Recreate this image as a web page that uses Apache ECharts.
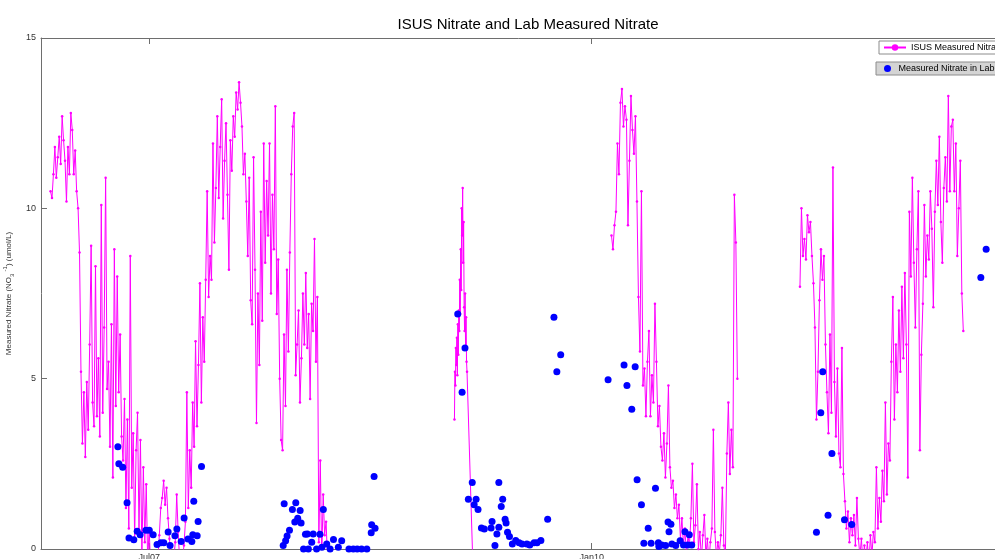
<!DOCTYPE html>
<html>
<head>
<meta charset="utf-8">
<title>ISUS Nitrate and Lab Measured Nitrate</title>
<script src="https://cdn.jsdelivr.net/npm/echarts@6/dist/echarts.min.js"></script>
<style>
html,body{margin:0;padding:0;background:#fff;}
#chart{width:995px;height:559px;}
</style>
</head>
<body>
<div id="chart"></div>
<script>
// x = days since 2007-07-01

// ISUS deployments: start day, sample step (days), values (umol/L)
var isusStartDay = [-204.3, 631.2, 956.0, 1345.9];
var isusStepDays = [3.0, 1.0, 3.1, 3.1];

var isusDep1 = [
  10.5, 10.3, 11.0, 11.8, 10.9, 11.5, 12.1, 11.3, 12.7, 12.0,
  11.4, 10.2, 11.8, 11.0, 12.8, 12.3, 11.0, 11.7, 10.5, 10.0,
  8.7, 5.2, 3.1, 4.6, 2.7, 4.9, 3.5, 6.0, 8.9, 4.3,
  3.6, 8.3, 3.9, 5.6, 3.3, 10.1, 4.0, 6.5, 10.9, 4.7,
  5.5, 3.0, 6.6, 2.1, 8.8, 4.2, 8.0, 4.6, 6.3, 3.3,
  2.6, 4.4, 1.2, 3.8, 0.6, 8.6, 1.8, 3.4, 0.3, 2.9,
  4.0, 0.5, 3.2, -0.3, 2.4, 0.2, 1.9, -0.4, 0.6, -0.5,
  -0.6, -0.5, -0.4, -0.6, -0.3, 0.4, 1.2, 1.5, 2.0, 1.3,
  1.8, 0.9, 0.3, -0.2, -0.4, -0.3, 0.2, 1.6, 0.5, -0.3,
  -0.4, -0.3, 0.1, 0.8, 4.6, 1.2, 2.9, 1.8, 4.3, 3.0,
  6.1, 3.6, 5.4, 7.8, 4.3, 6.8, 5.5, 7.9, 10.5, 7.4,
  8.6, 7.9, 11.9, 9.0, 10.6, 12.7, 10.3, 11.8, 13.2, 9.7,
  11.4, 12.5, 10.4, 8.2, 12.0, 11.1, 12.7, 12.1, 13.4, 12.9,
  13.7, 13.1, 12.4, 11.0, 11.6, 10.2, 8.6, 10.9, 7.3, 6.6,
  11.5, 8.2, 3.7, 7.5, 5.4, 9.9, 6.7, 11.9, 8.4, 10.8,
  9.2, 11.9, 7.5, 10.4, 8.8, 13.0, 6.9, 8.5, 5.0, 3.2,
  2.9, 6.3, 4.2, 8.2, 5.8, 8.7, 11.0, 12.4, 12.8, 5.1,
  6.0, 7.0, 4.3, 5.6, 7.5, 6.0, 8.1, 5.9, 6.9, 4.4,
  7.2, 6.4, 9.1, 5.5, 7.4, 0.2, 2.6, -0.3, 1.6, 0.4,
  0.8, -0.3
];
var isusDep2 = [
  3.8, 5.2, 4.8, 5.9, 5.4, 6.2, 5.1, 6.6, 5.7, 7.0,
  6.4, 7.9, 6.9, 8.8, 7.6, 10.0, 9.2, 10.6, 8.4, 9.6,
  7.1, 6.4, 7.5, 5.9, 6.8, 5.5, 5.2,
  null, null, null, null, null, null, null, null, null, null, null,
  -0.4
];
var isusDep3 = [
  9.2, 8.8, 9.5, 9.9, 11.9, 11.0, 13.1, 13.5, 12.4, 13.0,
  12.6, 9.5, 11.4, 13.3, 12.3, 11.6, 12.7, 10.2, 7.4, 5.8,
  10.5, 4.8, 5.3, 3.9, 5.5, 6.4, 3.9, 5.1, 4.3, 7.2,
  5.5, 3.6, 4.2, 3.0, 2.6, 3.4, 2.1, 3.1, 4.8, 2.4,
  1.8, 2.0, 1.2, 1.6, 0.9, 1.3, 0.3, 0.9, 0.1, 0.6,
  -0.2, 0.4, 0.1, 0.9, 2.5, 0.2, 0.7, 1.9, 0.0, 0.5,
  -0.3, 0.4, 1.0, -0.2, 0.3, -0.4, 0.2, 0.6, 3.5, 0.5,
  -0.2, 0.2, -0.1, 0.4, 1.8, 0.1, -0.2, 2.8, 4.3, 2.2,
  3.5, 2.4, 10.4, 9.0, 5.0
];
var isusDep4 = [
  7.7, 10.0, 8.6, 9.1, 8.5, 9.8, 9.3, 9.6, 8.6, 7.8,
  6.5, 3.8, 5.2, 7.3, 8.8, 7.9, 8.6, 6.0, 4.6, 3.4,
  6.3, 4.0, 11.2, 4.9, 3.3, 5.3, 2.8, 2.4, 5.9, 2.2,
  1.4, 0.6, 1.1, 0.2, 0.9, 0.4, 1.0, 0.1, 1.5, 0.3,
  -0.2, 0.3, -0.4, 0.1, -0.3, 0.2, -0.5, 0.4, -0.2, 0.5,
  0.2, 2.4, 0.6, 1.5, 0.8, 2.3, 1.4, 4.3, 1.6, 3.1,
  2.6, 5.5, 7.4, 3.8, 6.0, 4.6, 7.0, 5.2, 7.7, 5.6,
  8.1, 6.0, 2.1, 9.9, 8.0, 10.9, 8.4, 6.5, 8.8, 10.5,
  2.9, 5.7, 7.2, 10.1, 8.0, 9.2, 8.5, 10.5, 9.4, 7.1,
  9.9, 11.4, 10.1, 12.1, 9.6, 8.4, 10.6, 11.5, 10.2, 13.3,
  10.5, 12.4, 12.6, 10.5, 11.9, 8.6, 10.0, 11.4, 7.5, 6.4
];

// lab samples
var labDay = [
  -65, -63, -55, -46, -42, -32, -25, -19, -7, 0, 8, 16, 24, 30, 39, 43, 53, 57, 66, 72, 80, 88, 90, 92, 99, 101, 108,
  277, 282, 285, 290, 279, 296, 303, 312, 307, 301, 314, 319, 329, 323, 327, 339, 336, 353, 360, 346, 357, 367, 374, 381, 391, 398,
  413, 422, 430, 439, 450, 459, 460, 467, 465,
  638, 653, 647, 668, 723, 660, 676, 672, 680, 731, 728, 687, 693, 709, 707, 723, 719, 715, 736, 738, 741, 745, 751, 758, 765, 771, 781, 787, 796, 802, 810, 824, 837, 851, 843,
  949, 982, 1005, 988, 998, 1009, 1047, 1018, 1032, 1073, 1079, 1075, 1108, 1117, 1023, 1038, 1053, 1060, 1068, 1054, 1081, 1089, 1098, 1105, 1114, 1122,
  1380, 1404, 1438, 1453, 1393, 1389, 1412, 1731, 1720
];
var labNO3 = [
  3.0, 2.5, 2.4, 1.36, 0.32, 0.27, 0.52, 0.42, 0.55, 0.55, 0.42, 0.13, 0.18, 0.18, 0.5, 0.1, 0.39, 0.59, 0.22, 0.91, 0.29, 0.22, 0.42, 1.4, 0.39, 0.81, 2.42,
  0.1, 0.24, 0.38, 0.55, 1.33, 1.16, 1.36, 1.13, 0.9, 0.79, 0.76, 0.0, 0.0, 0.43, 0.44, 0.44, 0.2, 0.43, 1.16, 0.0, 0.05, 0.15, 0.0, 0.28, 0.05, 0.24,
  0.0, 0.0, 0.0, 0.0, 0.0, 0.48, 0.71, 0.61, 2.13,
  6.9, 5.9, 4.6, 1.95, 1.95, 1.46, 1.46, 1.3, 1.16, 1.46, 1.25, 0.62, 0.59, 0.81, 0.62, 0.64, 0.44, 0.1, 0.87, 0.76, 0.49, 0.37, 0.15, 0.25, 0.18, 0.15, 0.15, 0.12, 0.18, 0.18, 0.25, 0.87, 6.8, 5.7, 5.2,
  4.97, 5.4, 5.35, 4.8, 4.1, 2.03, 1.78, 1.3, 0.61, 0.79, 0.73, 0.51, 0.51, 0.42, 0.17, 0.17, 0.18, 0.12, 0.1, 0.07, 0.15, 0.1, 0.24, 0.12, 0.12, 0.12,
  0.49, 0.99, 0.86, 0.72, 5.2, 4.0, 2.8, 8.8, 7.97
];

var tickDays = [0, 915];
var tickText = ['Jul07', 'Jan10'];

var FONT = 'Liberation Sans, Arial, sans-serif';
var SERIES_NAME = 'ISUS Measured Nitrate';
var LAB_NAME = 'Measured Nitrate in Lab';

var lineSeries = [isusDep1, isusDep2, isusDep3, isusDep4].map(function (vals, k) {
  var pts = [];
  for (var i = 0; i < vals.length; i++) {
    if (vals[i] === null) continue;
    pts.push([isusStartDay[k] + i * isusStepDays[k], vals[i]]);
  }
  return {
    name: SERIES_NAME,
    type: 'line',
    data: pts,
    symbol: 'circle',
    symbolSize: 2.5,
    showSymbol: true,
    clip: true,
    lineStyle: {color: '#ff00ff', width: 1},
    itemStyle: {color: '#ff00ff'},
    z: 2
  };
});

var labPts = [];
for (var j = 0; j < labDay.length; j++) labPts.push([labDay[j], labNO3[j]]);

var myChart = echarts.init(document.getElementById('chart'));
var option = {
  animation: false,
  backgroundColor: '#ffffff',
  title: {
    text: 'ISUS Nitrate and Lab Measured Nitrate',
    left: 523,
    textAlign: 'center',
    top: 12,
    textStyle: {fontFamily: FONT, fontSize: 15, fontWeight: 'normal', color: '#000'}
  },
  legend: [
    {
      data: [SERIES_NAME],
      left: 879, top: 41,
      orient: 'horizontal',
      backgroundColor: '#ffffff',
      borderColor: '#8c8c8c', borderWidth: 1, borderRadius: 0,
      padding: [2, 40, 2, 4],
      itemWidth: 22, itemHeight: 8,
      textStyle: {fontFamily: FONT, fontSize: 9, color: '#000'}
    },
    {
      data: [LAB_NAME],
      left: 876, top: 62,
      backgroundColor: '#d4d4d4',
      borderColor: '#8c8c8c', borderWidth: 1, borderRadius: 0,
      padding: [2, 40, 2, 8],
      itemWidth: 12, itemHeight: 7,
      textStyle: {fontFamily: FONT, fontSize: 9, color: '#000'}
    }
  ],
  grid: {left: 41, top: 38, width: 964, height: 511, containLabel: false, outerBoundsMode: 'none'},
  xAxis: [
    {
      type: 'value', min: -224, max: 1770,
      position: 'bottom',
      axisLine: {onZero: false, lineStyle: {color: '#6e6e6e'}},
      axisTick: {inside: true, length: 6, customValues: tickDays, lineStyle: {color: '#6e6e6e'}},
      axisLabel: {
        customValues: tickDays, margin: 4,
        fontFamily: FONT, fontSize: 9, color: '#333',
        formatter: function (v) { return tickText[tickDays.indexOf(v)]; }
      },
      splitLine: {show: false}
    },
    {
      type: 'value', min: -224, max: 1770,
      position: 'top',
      axisLine: {onZero: false, lineStyle: {color: '#6e6e6e'}},
      axisTick: {inside: true, length: 6, customValues: tickDays, lineStyle: {color: '#6e6e6e'}},
      axisLabel: {show: false},
      splitLine: {show: false}
    }
  ],
  yAxis: {
    type: 'value', min: 0, max: 15, interval: 5,
    position: 'left',
    axisLine: {show: true, onZero: false, lineStyle: {color: '#6e6e6e'}},
    axisTick: {show: true, inside: true, length: 6, lineStyle: {color: '#6e6e6e'}},
    axisLabel: {margin: 5, fontFamily: FONT, fontSize: 9, color: '#333'},
    splitLine: {show: false},
    name: '{t|Measured Nitrate (NO}{sub|3}{t| }{sup|-1}{t|) (umol/L)}',
    nameLocation: 'middle',
    nameGap: 20,
    nameTextStyle: {
      rich: {
        t: {fontFamily: FONT, fontSize: 8, color: '#333', lineHeight: 13},
        sub: {fontFamily: FONT, fontSize: 6, color: '#333', lineHeight: 13, verticalAlign: 'bottom'},
        sup: {fontFamily: FONT, fontSize: 6, color: '#333', lineHeight: 13, verticalAlign: 'top'}
      }
    }
  },
  series: lineSeries.concat([{
    name: LAB_NAME,
    type: 'scatter',
    data: labPts,
    symbol: 'circle',
    symbolSize: 7,
    itemStyle: {color: '#0000ff', opacity: 1},
    z: 3
  }])
};
myChart.setOption(option);
</script>
</body>
</html>
